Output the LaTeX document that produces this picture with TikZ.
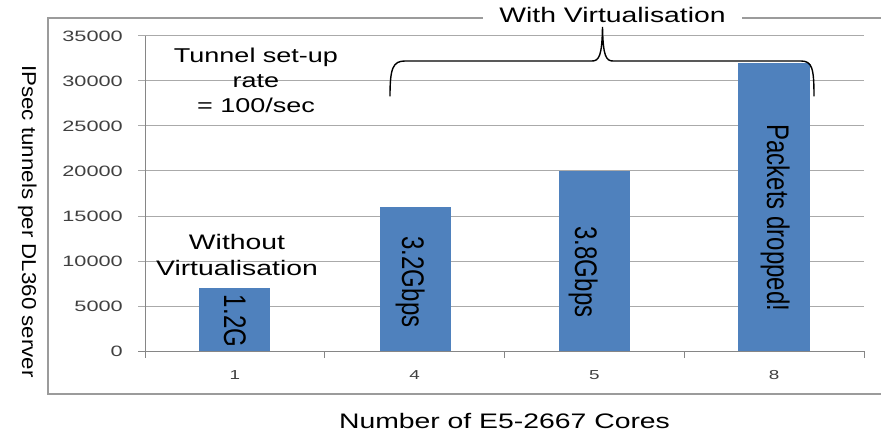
\documentclass[tikz,border=0pt]{standalone}
\usepackage{fontspec}
\setmainfont{Liberation Sans}
\newfontfamily\widefont[FakeStretch=1.35]{Liberation Sans}
\newfontfamily\tickfont[FakeStretch=1.45]{Liberation Sans}
\definecolor{barblue}{RGB}{79,129,189}
\definecolor{gridgray}{RGB}{170,170,170}
\definecolor{framegray}{RGB}{155,155,155}
\definecolor{axisgray}{RGB}{134,134,134}
\definecolor{ticktext}{RGB}{64,64,64}
\begin{document}
\begin{tikzpicture}[x=1pt,y=-1pt,
  note/.style={font=\widefont\fontsize{21}{26}\selectfont, align=center, inner sep=0pt, text=black},
  ytick/.style={font=\tickfont\fontsize{15}{18}\selectfont, anchor=base east, inner sep=0pt, text=ticktext},
  xtick/.style={font=\tickfont\fontsize{13}{16}\selectfont, anchor=base, inner sep=0pt, text=ticktext},
  barlabel/.style={font=\fontsize{24}{28}\selectfont, rotate=-90, anchor=base, inner sep=0pt, text=black},
  grid line/.style={draw=gridgray, line width=1pt},
  axis line/.style={draw=axisgray, line width=1pt},
  barfill/.style={fill=barblue},
  brace line/.style={draw=black, line width=1.4pt, line cap=round}]
\useasboundingbox (0,0) rectangle (881,433);
\fill[white] (0,0) rectangle (881,433);

% outer chart frame (open to the right)
\draw[draw=framegray, line width=1.8pt] (881,18) -- (48,18) -- (48,394) -- (881,394);

% horizontal grid lines (45pt per 5000) and value labels
\foreach \k in {1,...,7}
  \draw[grid line] (138,{351-45*\k}) -- (864,{351-45*\k});
\foreach \k/\val in {0/0,1/5000,2/10000,3/15000,4/20000,5/25000,6/30000,7/35000}
  \node[ytick] (yt\k) at (123,{351-45*\k+5.5}) {\val};

% axes
\draw[axis line] (145,36) -- (145,351);
\draw[axis line] (138,351) -- (864,351);
\foreach \x in {145,324.75,504.5,684.25,864}
  \draw[axis line] (\x,351) -- (\x,358);

% bars: 7000, 16000, 20000, 32000
\fill[barfill] (199,288) rectangle (270,351);
\fill[barfill] (380,207) rectangle (451,351);
\fill[barfill] (559,171) rectangle (630,351);
\fill[barfill] (738,63) rectangle (810,351);

% category labels
\node[xtick] (c1) at (234.9,379) {1};
\node[xtick] (c4) at (414.6,379) {4};
\node[xtick] (c5) at (594.4,379) {5};
\node[xtick] (c8) at (774.1,379) {8};

% labels inside the bars
\node[barlabel] (l1) at (224,321) {\scalebox{1}[1.3]{1.2G}};
\node[barlabel] (l2) at (402,282) {\scalebox{1}[1.3]{3.2Gbps}};
\node[barlabel] (l3) at (575,272) {\scalebox{1}[1.3]{3.8Gbps}};
\node[barlabel] (l4) at (767,218) {\scalebox{1}[1.3]{Packets dropped!}};

% axis titles
\node[font=\fontsize{22.3}{26}\selectfont, rotate=-90, anchor=base, inner sep=0pt] (ytitle)
  at (22,221.5) {\scalebox{1}[0.9]{IPsec tunnels per DL360 server}};
\node[note, anchor=base] (xtitle) at (504.5,428) {Number of E5-2667 Cores};

% annotations
\node[note, font=\widefont\fontsize{20}{25}\selectfont, anchor=north] (rate) at (256,47.5)
  {Tunnel set-up\\rate\\= 100/sec};
\node[note, anchor=north] (novirt) at (237,234.5) {Without\\Virtualisation};
\node[note, anchor=base, fill=white, inner xsep=16pt, inner ysep=2pt] (virt) at (612.5,23)
  {With Virtualisation};

% brace grouping the virtualised runs
\coordinate (bl) at (390,96);
\coordinate (br) at (814,96);
\coordinate (tip) at (602.5,27);
\draw[brace line] (bl) .. controls (390,68) and (393,61) .. (405,61) -- (592,61)
  .. controls (599,61) and (602,56) .. (tip)
  .. controls (603,56) and (606,61) .. (613,61) -- (801,61)
  .. controls (812,61) and (814,68) .. (br);
\end{tikzpicture}
\end{document}
